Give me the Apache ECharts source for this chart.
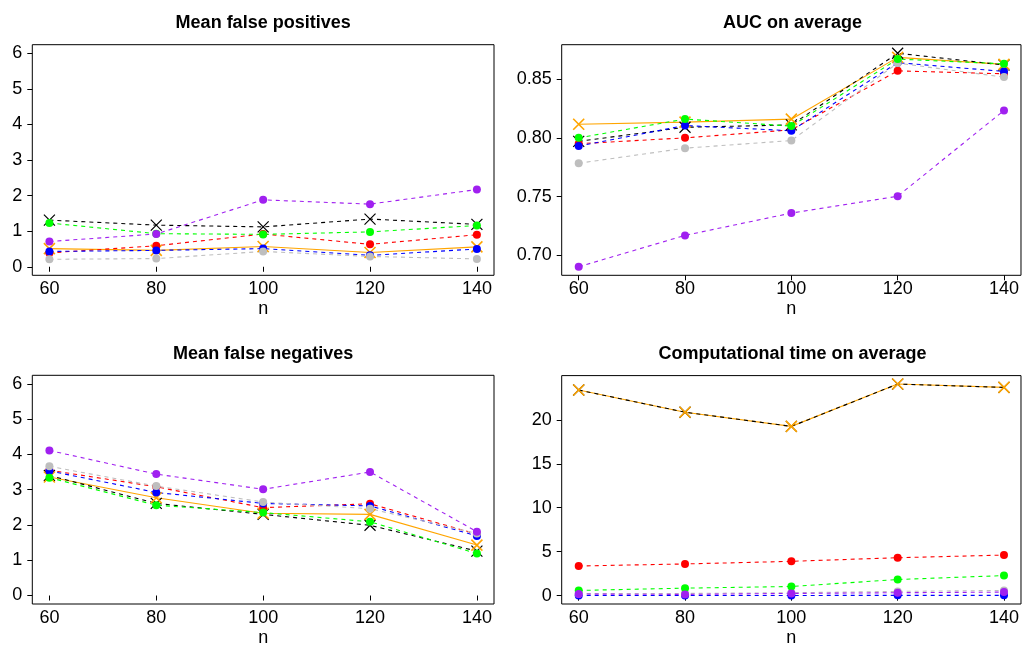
<!DOCTYPE html>
<html>
<head>
<meta charset="utf-8">
<title>Simulation summary</title>
<script src="https://cdn.jsdelivr.net/npm/echarts@6/dist/echarts.min.js"></script>
<style>
  html, body { margin: 0; padding: 0; background: #fff; }
  #chart { width: 1022px; height: 648px; }
</style>
</head>
<body>
<div id="chart"></div>
<script>
// Sample sizes on the x axis
const nValues = [60, 80, 100, 120, 140];

// Mean false positives
const fpBlack  = [1.31, 1.17, 1.12, 1.34, 1.19];
const fpOrange = [0.51, 0.46, 0.57, 0.40, 0.56];
const fpRed    = [0.39, 0.59, 0.92, 0.63, 0.90];
const fpGreen  = [1.23, 0.93, 0.91, 0.98, 1.16];
const fpBlue   = [0.43, 0.46, 0.51, 0.32, 0.50];
const fpGray   = [0.21, 0.23, 0.43, 0.29, 0.22];
const fpPurple = [0.71, 0.92, 1.88, 1.76, 2.17];

// AUC on average
const aucBlack  = [0.797, 0.809, 0.811, 0.872, 0.862];
const aucOrange = [0.8116, 0.8134, 0.8159, 0.8685, 0.8625];
const aucRed    = [0.795, 0.800, 0.8068, 0.857, 0.8545];
const aucGreen  = [0.800, 0.816, 0.810, 0.867, 0.863];
const aucBlue   = [0.793, 0.8105, 0.806, 0.864, 0.8565];
const aucGray   = [0.7784, 0.7912, 0.7977, 0.8636, 0.8517];
const aucPurple = [0.6903, 0.717, 0.736, 0.7503, 0.8233];

// Mean false negatives
const fnBlack  = [3.40, 2.61, 2.30, 1.99, 1.26];
const fnOrange = [3.36, 2.77, 2.33, 2.30, 1.43];
const fnRed    = [3.55, 3.08, 2.49, 2.60, 1.74];
const fnGreen  = [3.34, 2.56, 2.35, 2.09, 1.19];
const fnBlue   = [3.53, 2.92, 2.61, 2.54, 1.69];
const fnGray   = [3.66, 3.10, 2.65, 2.46, 1.76];
const fnPurple = [4.11, 3.44, 3.01, 3.50, 1.81];

// Computational time on average
const timeBlack  = [23.38, 20.86, 19.25, 24.06, 23.68];
const timeOrange = [23.38, 20.86, 19.25, 24.06, 23.68];
const timeRed    = [3.38, 3.61, 3.91, 4.32, 4.62];
const timeGreen  = [0.60, 0.86, 1.05, 1.84, 2.29];
const timeBlue   = [0.02, 0.03, 0.03, 0.04, 0.04];
const timeGray   = [0.23, 0.26, 0.34, 0.49, 0.60];
const timePurple = [0.19, 0.15, 0.26, 0.34, 0.41];

// Panel titles and y tick labels
const panelTitles = ['Mean false positives', 'AUC on average', 'Mean false negatives', 'Computational time on average'];
const fpTicks   = [0, 1, 2, 3, 4, 5, 6];
const aucTicks  = [0.70, 0.75, 0.80, 0.85];
const fnTicks   = [0, 1, 2, 3, 4, 5, 6];
const timeTicks = [0, 5, 10, 15, 20];

// Line styles per method: colour, dashed or solid, marker
const styles = {
  black:  { color: '#000000', dashed: true,  marker: 'cross', stroke: 1.2 },
  orange: { color: '#FFA500', dashed: false, marker: 'cross', stroke: 1.6 },
  red:    { color: '#FF0000', dashed: true,  marker: 'dot' },
  green:  { color: '#00FF00', dashed: true,  marker: 'dot' },
  blue:   { color: '#0000FF', dashed: true,  marker: 'dot' },
  gray:   { color: '#BEBEBE', dashed: true,  marker: 'dot' },
  purple: { color: '#A020F0', dashed: true,  marker: 'dot' }
};

const panels = [
  { data: { black: fpBlack, orange: fpOrange, red: fpRed, green: fpGreen, blue: fpBlue, gray: fpGray, purple: fpPurple },
    ticks: fpTicks, ylim: [0, 6], decimals: 0 },
  { data: { black: aucBlack, orange: aucOrange, red: aucRed, green: aucGreen, blue: aucBlue, gray: aucGray, purple: aucPurple },
    ticks: aucTicks, ylim: null, decimals: 2 },
  { data: { black: fnBlack, orange: fnOrange, red: fnRed, green: fnGreen, blue: fnBlue, gray: fnGray, purple: fnPurple },
    ticks: fnTicks, ylim: [0, 6], decimals: 0 },
  { data: { black: timeBlack, orange: timeOrange, red: timeRed, green: timeGreen, blue: timeBlue, gray: timeGray, purple: timePurple },
    ticks: timeTicks, ylim: null, decimals: 0 }
];

// Plot boxes (pixels)
const boxes = [
  { left: 32.3,  top: 44.7,  width: 461.7, height: 230.6 },
  { left: 561.7, top: 44.7,  width: 461.7, height: 230.6 },
  { left: 32.3,  top: 375.3, width: 461.7, height: 230.7 },
  { left: 561.7, top: 375.6, width: 461.7, height: 230.4 }
];
const titleTops = [14, 14, 345, 345];

// Axis range padded 4% on each side
function padRange(lo, hi) {
  const r = hi - lo;
  return [lo - 0.04 * r, hi + 0.04 * r];
}

const xRange = padRange(Math.min(...nValues), Math.max(...nValues));

const lineOrder = ['orange', 'black', 'red', 'blue', 'gray', 'green', 'purple'];
const pointOrder = ['black', 'orange', 'red', 'blue', 'gray', 'green', 'purple'];
const crossPath = 'path://M0,0L10,10M10,0L0,10';

const FONT = '"Liberation Sans", Arial, Helvetica, sans-serif';

const grids = [], xAxes = [], yAxes = [], series = [], titles = [];

panels.forEach((p, i) => {
  const b = boxes[i];
  grids.push({
    left: b.left, top: b.top, width: b.width, height: b.height,
    show: true, borderColor: '#000', borderWidth: 1, backgroundColor: 'transparent',
    containLabel: false
  });

  let lo, hi;
  if (p.ylim) { lo = p.ylim[0]; hi = p.ylim[1]; }
  else {
    const all = Object.values(p.data).flat();
    lo = Math.min(...all); hi = Math.max(...all);
  }
  const yRange = padRange(lo, hi);

  xAxes.push({
    gridIndex: i, type: 'value', min: xRange[0], max: xRange[1],
    name: 'n', nameLocation: 'middle', nameGap: 25,
    nameTextStyle: { fontFamily: FONT, fontSize: 18, color: '#000' },
    axisLine: { show: false },
    axisTick: { show: true, inside: false, length: 5, lineStyle: { color: '#000', width: 1 }, customValues: nValues },
    axisLabel: { show: true, margin: 5, fontFamily: FONT, fontSize: 18, color: '#000', customValues: nValues },
    splitLine: { show: false }
  });

  yAxes.push({
    gridIndex: i, type: 'value', min: yRange[0], max: yRange[1],
    axisLine: { show: false },
    axisTick: { show: true, inside: false, length: 5, lineStyle: { color: '#000', width: 1 }, customValues: p.ticks },
    axisLabel: {
      show: true, margin: 10, fontFamily: FONT, fontSize: 18, color: '#000', customValues: p.ticks,
      formatter: (v) => Number(v).toFixed(p.decimals)
    },
    splitLine: { show: false }
  });

  lineOrder.forEach((key, k) => {
    const s = styles[key];
    series.push({
      type: 'line', xAxisIndex: i, yAxisIndex: i, name: key,
      data: nValues.map((n, j) => [n, p.data[key][j]]),
      symbol: 'none', silent: true, z: 2 + k * 0.01,
      lineStyle: { color: s.color, width: 1.1, opacity: 1, type: s.dashed ? [4, 4] : 'solid' },
      emphasis: { disabled: true },
      animation: false
    });
  });

  pointOrder.forEach((key, k) => {
    const s = styles[key];
    const isCross = s.marker === 'cross';
    series.push({
      type: 'scatter', xAxisIndex: i, yAxisIndex: i, name: key,
      data: nValues.map((n, j) => [n, p.data[key][j]]),
      symbol: isCross ? crossPath : 'circle',
      symbolSize: isCross ? 11 : 8,
      z: 3 + k * 0.01,
      itemStyle: isCross
        ? { color: s.color, borderColor: s.color, borderWidth: s.stroke, opacity: 1 }
        : { color: s.color, borderWidth: 0, opacity: 1 },
      emphasis: { disabled: true },
      animation: false
    });
  });

  titles.push({
    text: panelTitles[i],
    left: b.left + b.width / 2,
    top: titleTops[i],
    textAlign: 'center',
    padding: 0,
    textStyle: { fontFamily: FONT, fontSize: 18, fontWeight: 'bold', color: '#000' }
  });
});

const chart = echarts.init(document.getElementById('chart'), null, { renderer: 'canvas' });
chart.setOption({
  animation: false,
  backgroundColor: '#fff',
  title: titles,
  grid: grids,
  xAxis: xAxes,
  yAxis: yAxes,
  series: series
});
</script>
</body>
</html>
